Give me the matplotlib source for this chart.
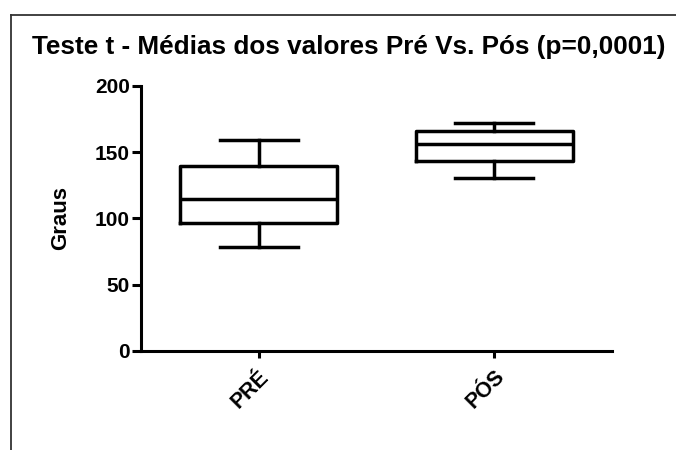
import matplotlib
matplotlib.use("Agg")
import matplotlib.pyplot as plt
from matplotlib.lines import Line2D

plt.rcParams['font.family'] = ['Liberation Sans', 'DejaVu Sans']
plt.rcParams['font.weight'] = 'bold'

categories = ["PRÉ", "PÓS"]
whisker_low = [78.6, 130.6]
q1 = [96.2, 143.2]
median = [114.9, 156.3]
q3 = [139.5, 166.2]
whisker_high = [159.2, 172.2]
yticks = [0, 50, 100, 150, 200]
title = "Teste t - Médias dos valores Pré Vs. Pós (p=0,0001)"
ylabel = "Graus"

fig = plt.figure(figsize=(6.76, 4.5), dpi=100)
ax = fig.add_axes([0.2086, 0.22, 0.6967, 0.5896])

stats = []
for i, c in enumerate(categories):
    stats.append(dict(label=c, whislo=whisker_low[i], q1=q1[i], med=median[i],
                      q3=q3[i], whishi=whisker_high[i], fliers=[]))

lw = 2.5
ax.bxp(stats, positions=[1, 2], widths=0.667, capwidths=0.33, showfliers=False,
       boxprops=dict(color='black', linewidth=lw),
       medianprops=dict(color='black', linewidth=lw),
       whiskerprops=dict(color='black', linewidth=lw),
       capprops=dict(color='black', linewidth=lw))

ax.set_xlim(0.5, 2.5)
ax.set_ylim(0, 200)
ax.set_yticks(yticks)
ax.set_yticklabels([str(v) for v in yticks], fontsize=15, fontweight='bold')
ax.set_xticks([1, 2])
ax.set_xticklabels(categories, fontsize=15.5, fontweight='bold',
                   rotation=45, ha='right', rotation_mode='anchor')
for s in ['top', 'right']:
    ax.spines[s].set_visible(False)
for s in ['left', 'bottom']:
    ax.spines[s].set_linewidth(2.2)
ax.tick_params(axis='y', length=6.5, width=2.2, pad=1.5)
ax.tick_params(axis='x', length=5, width=2.2, pad=6)
ax.set_ylabel(ylabel, fontsize=16, fontweight='bold', labelpad=17)

fig.text(0.5155, 1 - 47 / 450, title, fontsize=18.8, fontweight='bold',
         ha='center', va='center')

# outer frame (top and left)
fig.add_artist(Line2D([11 / 676, 1.0], [1 - 15 / 450, 1 - 15 / 450],
                      transform=fig.transFigure, color='#333333', linewidth=1.3))
fig.add_artist(Line2D([11 / 676, 11 / 676], [0, 1 - 15 / 450],
                      transform=fig.transFigure, color='#333333', linewidth=1.3))

fig.savefig("out.png", dpi=100)
